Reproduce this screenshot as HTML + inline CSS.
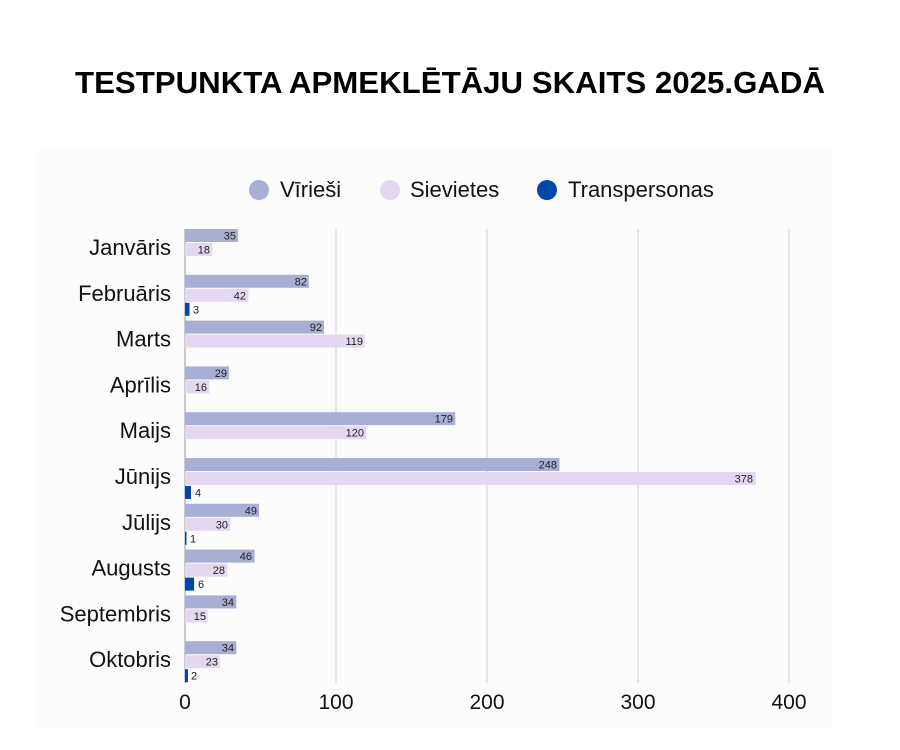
<!DOCTYPE html>
<html><head><meta charset="utf-8"><style>
body{margin:0;background:#fff;}
svg{display:block;font-family:"Liberation Sans",sans-serif;}
.l{font-size:22px;fill:#111;text-anchor:end}
.v{font-size:11px;fill:#222;text-anchor:end}
.t{font-size:11px;fill:#222}
</style></head><body>
<svg width="900" height="750" viewBox="0 0 900 750">
<rect width="900" height="750" fill="#fff"/>
<rect x="37" y="150" width="795" height="578" fill="#fcfcfd"/>
<text x="450" y="93" text-anchor="middle" font-size="31" font-weight="bold" fill="#000" textLength="750" lengthAdjust="spacingAndGlyphs">TESTPUNKTA APMEKLĒTĀJU SKAITS 2025.GADĀ</text>
<circle cx="259" cy="190" r="10" fill="#a9afd4"/><text x="280" y="197" font-size="22" fill="#111">Vīrieši</text>
<circle cx="390" cy="190" r="10" fill="#e4d7f0"/><text x="410" y="197" font-size="22" fill="#111">Sievietes</text>
<circle cx="547" cy="190" r="10" fill="#0047ab"/><text x="568" y="197" font-size="22" fill="#111">Transpersonas</text>
<g stroke="#cfcfcf" stroke-width="1">
<line x1="336" y1="229" x2="336" y2="683"/><line x1="487" y1="229" x2="487" y2="683"/><line x1="638" y1="229" x2="638" y2="683"/><line x1="789" y1="229" x2="789" y2="683"/>
</g>
<line x1="185" y1="229" x2="185" y2="683" stroke="#999"/>
<g font-size="21" fill="#111" text-anchor="middle">
<text x="185" y="709">0</text><text x="336" y="709">100</text><text x="487" y="709">200</text><text x="638" y="709">300</text><text x="789" y="709">400</text>
</g>

<g transform="translate(0,229)">
<text class="l" x="171" y="26">Janvāris</text>
<rect x="185" y="0" width="52.9" height="13" fill="#a9afd4"/><text class="v" x="236" y="10.5">35</text>
<rect x="185" y="14" width="27.2" height="13" fill="#e4d7f0"/><text class="v" x="210" y="24.5">18</text>
</g>
<g transform="translate(0,274.8)">
<text class="l" x="171" y="26">Februāris</text>
<rect x="185" y="0" width="123.8" height="13" fill="#a9afd4"/><text class="v" x="307" y="10.5">82</text>
<rect x="185" y="14" width="63.4" height="13" fill="#e4d7f0"/><text class="v" x="246" y="24.5">42</text>
<rect x="185" y="28" width="4.5" height="13" fill="#0047ab"/><text class="t" x="193" y="38.5">3</text>
</g>
<g transform="translate(0,320.6)">
<text class="l" x="171" y="26">Marts</text>
<rect x="185" y="0" width="138.9" height="13" fill="#a9afd4"/><text class="v" x="322" y="10.5">92</text>
<rect x="185" y="14" width="179.7" height="13" fill="#e4d7f0"/><text class="v" x="363" y="24.5">119</text>
</g>
<g transform="translate(0,366.4)">
<text class="l" x="171" y="26">Aprīlis</text>
<rect x="185" y="0" width="43.8" height="13" fill="#a9afd4"/><text class="v" x="227" y="10.5">29</text>
<rect x="185" y="14" width="24.2" height="13" fill="#e4d7f0"/><text class="v" x="207" y="24.5">16</text>
</g>
<g transform="translate(0,412.2)">
<text class="l" x="171" y="26">Maijs</text>
<rect x="185" y="0" width="270.3" height="13" fill="#a9afd4"/><text class="v" x="453" y="10.5">179</text>
<rect x="185" y="14" width="181.2" height="13" fill="#e4d7f0"/><text class="v" x="364" y="24.5">120</text>
</g>
<g transform="translate(0,458)">
<text class="l" x="171" y="26">Jūnijs</text>
<rect x="185" y="0" width="374.5" height="13" fill="#a9afd4"/><text class="v" x="557" y="10.5">248</text>
<rect x="185" y="14" width="570.8" height="13" fill="#e4d7f0"/><text class="v" x="753" y="24.5">378</text>
<rect x="185" y="28" width="6" height="13" fill="#0047ab"/><text class="t" x="195" y="38.5">4</text>
</g>
<g transform="translate(0,503.8)">
<text class="l" x="171" y="26">Jūlijs</text>
<rect x="185" y="0" width="74" height="13" fill="#a9afd4"/><text class="v" x="257" y="10.5">49</text>
<rect x="185" y="14" width="45.3" height="13" fill="#e4d7f0"/><text class="v" x="228" y="24.5">30</text>
<rect x="185" y="28" width="1.5" height="13" fill="#0047ab"/><text class="t" x="190" y="38.5">1</text>
</g>
<g transform="translate(0,549.6)">
<text class="l" x="171" y="26">Augusts</text>
<rect x="185" y="0" width="69.5" height="13" fill="#a9afd4"/><text class="v" x="252" y="10.5">46</text>
<rect x="185" y="14" width="42.3" height="13" fill="#e4d7f0"/><text class="v" x="225" y="24.5">28</text>
<rect x="185" y="28" width="9.1" height="13" fill="#0047ab"/><text class="t" x="198" y="38.5">6</text>
</g>
<g transform="translate(0,595.4)">
<text class="l" x="171" y="26">Septembris</text>
<rect x="185" y="0" width="51.3" height="13" fill="#a9afd4"/><text class="v" x="234" y="10.5">34</text>
<rect x="185" y="14" width="22.7" height="13" fill="#e4d7f0"/><text class="v" x="206" y="24.5">15</text>
</g>
<g transform="translate(0,641.2)">
<text class="l" x="171" y="26">Oktobris</text>
<rect x="185" y="0" width="51.3" height="13" fill="#a9afd4"/><text class="v" x="234" y="10.5">34</text>
<rect x="185" y="14" width="34.7" height="13" fill="#e4d7f0"/><text class="v" x="218" y="24.5">23</text>
<rect x="185" y="28" width="3" height="13" fill="#0047ab"/><text class="t" x="191" y="38.5">2</text>
</g>
</svg>
</body></html>
